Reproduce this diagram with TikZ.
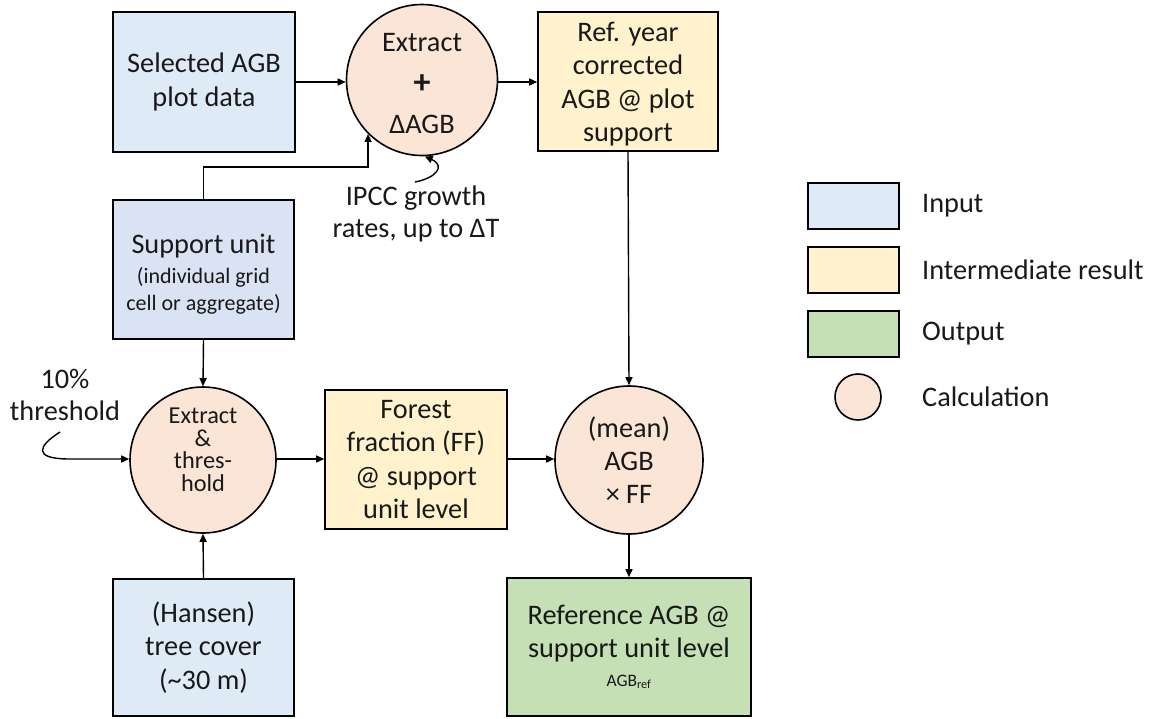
\documentclass[tikz,border=0pt]{standalone}
\usepackage{fontspec}
\setmainfont{Carlito}
\usetikzlibrary{arrows.meta,positioning,calc}
\definecolor{inblue}{HTML}{DEEBF7}
\definecolor{supblue}{HTML}{DAE3F3}
\definecolor{midyel}{HTML}{FFF2CC}
\definecolor{outgrn}{HTML}{C5E0B4}
\definecolor{calcpk}{HTML}{FBE5D6}
\newcommand{\smallf}{\fontsize{22}{27}\selectfont}
\tikzset{
  base/.style={draw=black, line width=1.6pt, inner sep=0pt, align=center, text=black!90,
    font=\fontsize{28.3}{33.3}\selectfont},
  inbox/.style={base, rectangle, fill=inblue},
  supbox/.style={base, rectangle, fill=supblue},
  midbox/.style={base, rectangle, fill=midyel},
  outbox/.style={base, rectangle, fill=outgrn},
  calc/.style={base, circle, fill=calcpk},
  lbl/.style={inner sep=0pt, align=center, text=black!90, font=\fontsize{28.3}{32}\selectfont},
  arr/.style={line width=1.4pt, -{Triangle[length=8pt,width=7pt]}},
  ln/.style={line width=1.4pt}
}
\begin{document}
\begin{tikzpicture}[x=1pt,y=-1pt]
\useasboundingbox (0,0) rectangle (1153,718);
% main nodes
\node[inbox, minimum width=182pt, minimum height=140pt] (sel) at (204,82) {Selected AGB\\plot data};
\node[calc, minimum size=151pt] (ext1) at (422,80) {};
\node[lbl] (ext1t) at (422,84) {Extract\\[10pt]{\fontsize{34}{34}\selectfont\bfseries +}\\[8pt]ΔAGB};
\node[midbox, minimum width=180pt, minimum height=139pt] (ref) at (628,81.5) {};
\node[lbl, font=\fontsize{28.3}{33.3}\selectfont] (reft) at (628,84) {Ref. year\\corrected\\AGB @ plot\\support};
\node[supbox, minimum width=181pt, minimum height=139pt] (sup) at (203.5,269.5) {};
\node[lbl] (supt) at (203.5,274)
  {Support unit\\[-2pt]\smallf (individual grid\\[-5pt]\smallf cell or aggregate)};
\node[calc, minimum size=146pt] (ext2) at (203,460) {};
\node[inner sep=0pt, align=center, text=black!90, font=\fontsize{24.3}{22.5}\selectfont] (ext2t) at (203,450) {Extract\\\&\\thres-\\hold};
\node[midbox, minimum width=182pt, minimum height=139pt] (ff) at (416,459.5) {Forest\\fraction (FF)\\@ support\\unit level};
\node[calc, minimum size=148pt] (mean) at (629,460) {(mean)\\AGB\\× FF};
\node[inbox, minimum width=181pt, minimum height=137pt] (han) at (203.5,647.5) {(Hansen)\\tree cover\\(\textasciitilde30 m)};
\node[outbox, minimum width=244pt, minimum height=138pt] (out) at (629,647)
  {Reference AGB @\\support unit level\\[-5pt]\fontsize{17.5}{19}\selectfont AGB\textsubscript{ref}};
% free labels
\node[lbl] (ipcc) at (416,214) {IPCC growth\\rates, up to ΔT};
\node[lbl] (thr) at (65,395) {10\%\\threshold};
% connectors
\draw[arr] (sel.east |- 0,82) -- (ext1.west |- 0,82);
\draw[arr] (ext1.east |- 0,82) -- (ref.west |- 0,82);
\coordinate (bend) at (ext1.-135.6 |- 0,167);
\draw[arr] (sup.north) |- (bend) -- (ext1.-135.6);
\coordinate (ipccstart) at (415,182);
\draw[arr] (ipccstart) .. controls (436,178) and (446,166) .. (ext1.-88);
\draw[arr] (ref.south) -- (mean.north);
\draw[arr] (sup.south) -- (ext2.north);
\draw[arr] (han.north) -- (ext2.south);
\coordinate (thrstart) at (60,432);
\draw[arr] (thrstart) .. controls (38,446) and (32,459) .. (70,459) -- (ext2.west |- 0,459);
\draw[arr] (ext2.east |- 0,459) -- (ff.west |- 0,459);
\draw[arr] (ff.east |- 0,459) -- (mean.west |- 0,459);
\draw[arr] (mean.south) -- (out.north);
% legend
\node[inbox, minimum width=91pt, minimum height=46pt] (lg1) at (853.5,206) {};
\node[midbox, minimum width=91pt, minimum height=46pt] (lg2) at (853.5,270) {};
\node[outbox, minimum width=91pt, minimum height=46pt] (lg3) at (853.5,334) {};
\node[calc, minimum size=46pt] (lg4) at (858,397) {};
\node[lbl, anchor=west] (lt1) at (922,206) {Input};
\node[lbl, anchor=west] (lt2) at (922,270) {Intermediate result};
\node[lbl, anchor=west] (lt3) at (922,334) {Output};
\node[lbl, anchor=west] (lt4) at (922,397) {Calculation};
\end{tikzpicture}
\end{document}
